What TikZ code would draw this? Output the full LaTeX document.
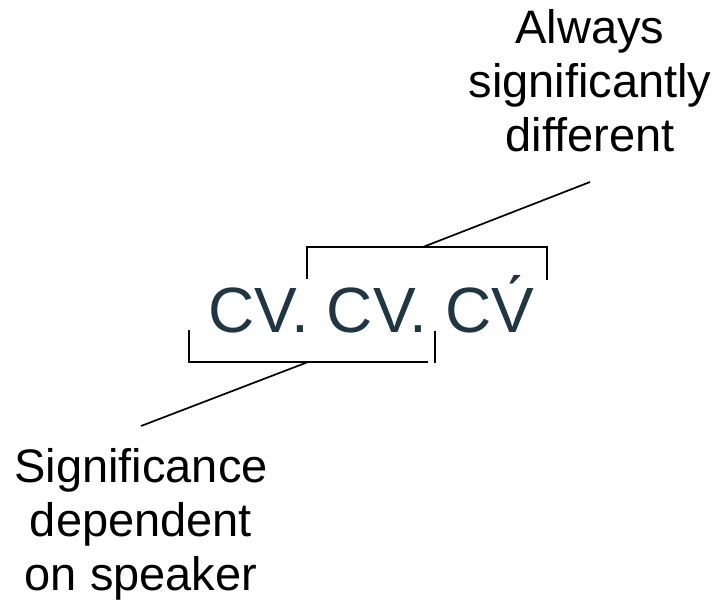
\documentclass[tikz,border=0pt]{standalone}
\usepackage{fontspec}
\setmainfont{Liberation Sans}
\definecolor{cvcol}{RGB}{31,54,68}
\tikzset{
  lbl/.style={inner sep=0pt, align=center, font=\fontsize{47}{54}\selectfont, text=black},
  cvtext/.style={inner sep=0pt, font=\fontsize{64}{70}\selectfont, text=cvcol},
  brk/.style={draw=black, line width=2pt},
  conn/.style={draw=black, line width=1.7pt}
}
\begin{document}
\begin{tikzpicture}[x=1pt,y=-1pt]
\useasboundingbox (0,0) rectangle (718,606);
\node[cvtext, anchor=base west] (cv) at (208,332) {CV. CV. CV\char"0301};
\node[lbl, anchor=base] (top) at (590,151) {Always\\significantly\\different};
\node[lbl, anchor=base] (bot) at (141,590) {Significance\\dependent\\on speaker};
% upper bracket
\coordinate (ub1) at (307,279);
\coordinate (ub2) at (307,247);
\coordinate (ub3) at (547,247);
\coordinate (ub4) at (547,280);
\coordinate (ubm) at (423,247);
\coordinate (ute) at (590,182);
\draw[brk] (ub1) -- (ub2) -- (ub3) -- (ub4);
\draw[conn] (ubm) -- (ute);
% lower bracket
\coordinate (lb1) at (189,330);
\coordinate (lb2) at (189,362);
\coordinate (lb3) at (428,362);
\coordinate (lr1) at (435,331);
\coordinate (lr2) at (435,363);
\coordinate (lbm) at (308,362);
\coordinate (lte) at (141,426);
\draw[brk] (lb1) -- (lb2) -- (lb3);
\draw[brk] (lr1) -- (lr2);
\draw[conn] (lbm) -- (lte);
\end{tikzpicture}
\end{document}
